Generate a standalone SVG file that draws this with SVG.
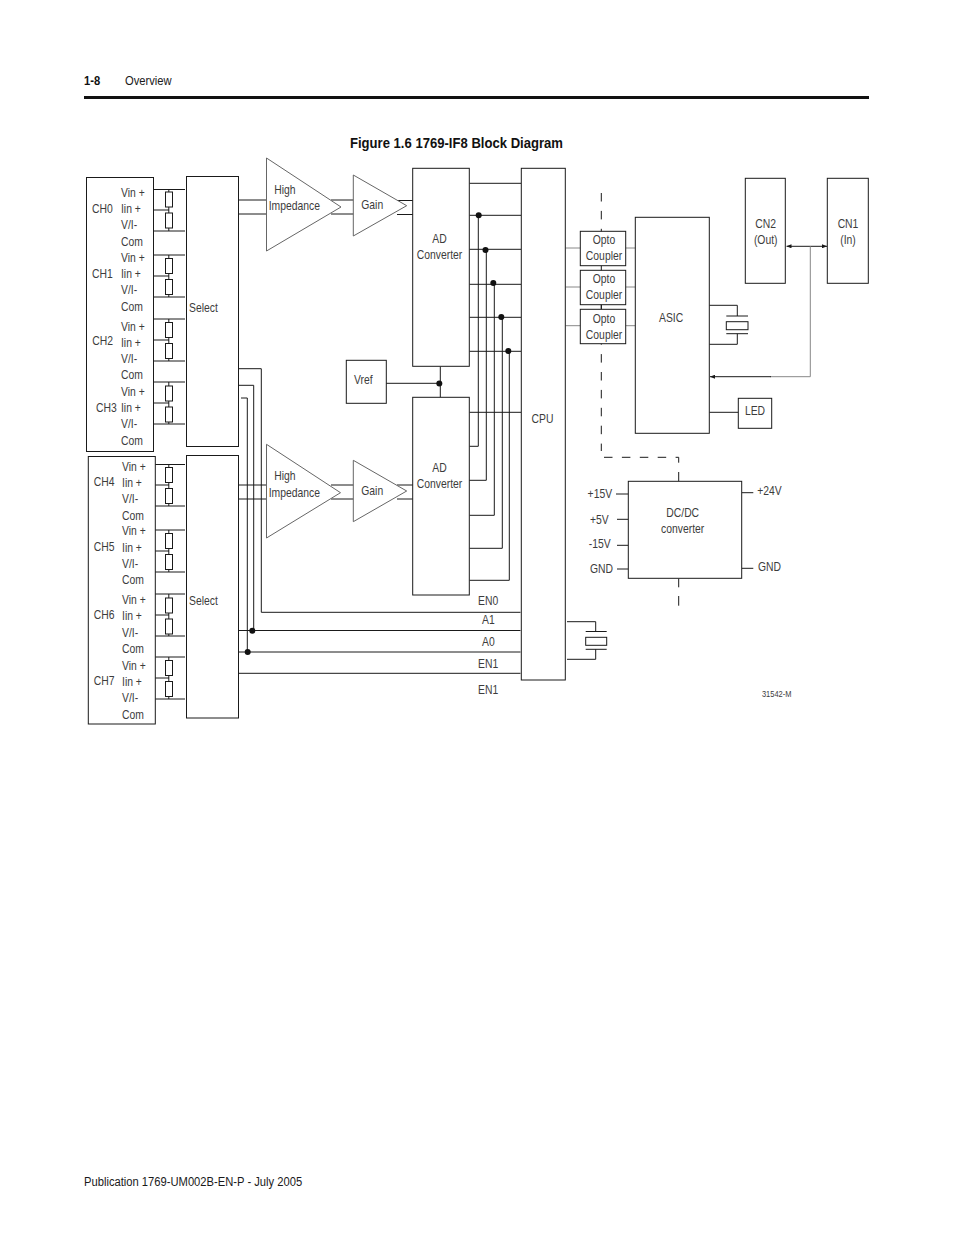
<svg xmlns="http://www.w3.org/2000/svg" width="954" height="1235" viewBox="0 0 954 1235">
<style>
text{font-family:"Liberation Sans",Arial,sans-serif;font-size:12.5px;fill:#3c3c3c;transform-box:fill-box;transform-origin:left center;transform:translateY(-.7px) scaleX(.83)}
.c{text-anchor:middle;transform-origin:center}.e{text-anchor:end;transform-origin:right center}
.h{font-size:13.5px;fill:#1a1a1a}
.b{font-weight:bold;fill:#111}
.t{font-size:15px;transform:translateY(-.7px) scaleX(.873)}
.s{font-size:9px}
.box{fill:#fff;stroke:#1a1a1a;stroke-width:1}
.tri{fill:#fff;stroke:#666;stroke-width:1}
.w{fill:none;stroke:#1a1a1a;stroke-width:1}
.g{fill:none;stroke:#888;stroke-width:1}
.d{fill:none;stroke:#1a1a1a;stroke-width:1;stroke-dasharray:8.5 9.4}
.dot{fill:#111}
.r{fill:#fff;stroke:#1a1a1a;stroke-width:1}
</style>
<defs>
<marker id="ah" viewBox="0 0 5 4" refX="5" refY="2" markerWidth="5" markerHeight="4" markerUnits="userSpaceOnUse" orient="auto-start-reverse"><path d="M0 0L5 2L0 4Z" fill="#1a1a1a"/></marker>
<g id="res"><rect class="r" x="165.5" y="0" width="7" height="15"/><rect class="r" x="165.5" y="21" width="7" height="15"/></g>
</defs>
<rect width="954" height="1235" fill="#fff"/>
<g id="page">
<text class="h b" x="84" y="86">1-8</text>
<text class="h" x="125" y="86">Overview</text>
<rect x="84" y="96" width="785" height="3" fill="#111"/>
<text class="b t" x="350" y="149">Figure 1.6 1769-IF8 Block Diagram</text>
<text class="h" x="84" y="1187">Publication 1769-UM002B-EN-P - July 2005</text>
<text class="c s" x="776.7" y="697.5">31542-M</text>
</g>
<g id="connectors">
<path class="w" d="M153.5 189.5H185M153.5 210H169M153.5 231H185M153.5 255H185M153.5 276H169M153.5 297H185M153.5 319H185M153.5 340H169M153.5 361H185M153.5 382H185M153.5 403H169M153.5 424H185"/>
<path class="w" d="M155 464.5H185M155 485H169M155 506H185M155 530H185M155 551H169M155 572H185M155 594H185M155 615H169M155 636H185M155 657H185M155 678H169M155 699H185"/>
<path class="w" d="M168.8 189.5V231M168.8 255V297M168.8 319V361M168.8 382V424M168.8 464.5V506M168.8 530V572M168.8 594V636M168.8 657V699"/>
<use href="#res" y="192"/><use href="#res" y="258.5"/><use href="#res" y="322.5"/><use href="#res" y="386"/>
<use href="#res" y="467.5"/><use href="#res" y="533.5"/><use href="#res" y="598"/><use href="#res" y="660.5"/>
<path class="w" d="M238.5 200H267M238.5 214H267M331 200H354M331 214H354M397 200.5H413M397 214.5H413"/>
<path class="w" d="M238.5 485H267M238.5 499H267M331 485H354M331 499H354M397 485H413M397 499H413"/>
<path class="w" d="M238.5 368.7H261.3V612.3H520.5M238.5 385.3H253.7V630.5M241 398H247.3V652M238.5 630.5H520.5M238.5 652H520.5M238.5 673.3H520.5"/>
<path class="w" d="M469.5 183.3H521M469.5 215.3H521M469.5 249.3H521M469.5 284.3H521M469.5 317.3H521M469.5 351.3H521M469.5 412.3H521"/>
<path class="w" d="M478.3 215.3V446.3H469.5M486.3 250V480.3H468.5M494.3 283V515.3H469.5M502.3 317V548.3H469.5M509.3 351V580.3H469.5"/>
<path class="w" d="M386 383.3H440M440.3 366.5V397.5"/>
<path class="w" d="M567 621.7H595.7V631.5M585.7 631.5H606.7M585.7 649.3H606.7M595.7 649.3V659.3H567"/>
<rect class="r" x="585.7" y="637.3" width="21" height="8"/>
<path class="g" d="M565.5 248H580.5M565.5 287H580.5M565.5 325.7H580.5M625.7 248H635.5M625.7 287H635.5M625.7 325.7H635.5"/>
<path class="d" d="M601.3 193V451"/>
<path class="w" d="M601.3 304V310"/>
<path class="d" d="M604 457.3H678.7V463"/>
<path class="w" d="M678.7 472V481.3M678.7 578.5V587.3M678.7 596V605.7"/>
<path class="w" d="M616 494H628.5M617 519.3H628.5M617 545.3H628.5M617 569H628.5M741.7 492.7H753.3M741.7 568.3H753.3"/>
<path class="w" d="M786.5 246.3H827" marker-start="url(#ah)" marker-end="url(#ah)"/>
<path class="g" d="M810.3 246.3V376.7H770"/>
<path class="w" d="M771 376.7H710" marker-end="url(#ah)"/>
<path class="w" d="M709.3 412.3H738.5"/>
<path class="w" d="M709.3 305.3H737.3V316M726.3 316H748M726.3 333.7H748M737.3 333.7V344.3H709.3"/>
<rect class="r" x="726.3" y="321.7" width="21.7" height="8"/>
</g>
<g id="ch0-3"><rect class="box" x="86.5" y="177.5" width="67" height="274"/>
<text x="92" y="214">CH0</text><text x="121" y="198">Vin +</text><text x="121" y="214">Iin +</text><text x="121" y="229.5">V/I-</text><text x="121" y="246.7">Com</text>
<text x="92" y="278.7">CH1</text><text x="121" y="262.7">Vin +</text><text x="121" y="278.7">Iin +</text><text x="121" y="294.7">V/I-</text><text x="121" y="311.3">Com</text>
<text x="92.3" y="346">CH2</text><text x="121" y="331.7">Vin +</text><text x="121" y="347.7">Iin +</text><text x="121" y="363.3">V/I-</text><text x="121" y="380">Com</text>
<text x="96" y="412.7">CH3</text><text x="121" y="397">Vin +</text><text x="121" y="412.7">Iin +</text><text x="121" y="428.3">V/I-</text><text x="121" y="445.3">Com</text></g>
<g id="ch4-7"><rect class="box" x="88.3" y="456.5" width="67" height="267.5"/>
<text x="93.7" y="486.7">CH4</text><text x="122" y="472">Vin +</text><text x="122" y="488">Iin +</text><text x="122" y="504">V/I-</text><text x="122" y="520.7">Com</text>
<text x="93.7" y="551.7">CH5</text><text x="122" y="536">Vin +</text><text x="122" y="552.7">Iin +</text><text x="122" y="568.3">V/I-</text><text x="122" y="584.7">Com</text>
<text x="93.7" y="620">CH6</text><text x="122" y="605">Vin +</text><text x="122" y="620.7">Iin +</text><text x="122" y="637.3">V/I-</text><text x="122" y="653.3">Com</text>
<text x="93.7" y="685.7">CH7</text><text x="122" y="670.7">Vin +</text><text x="122" y="686.3">Iin +</text><text x="122" y="702.3">V/I-</text><text x="122" y="719.3">Com</text></g>
<g id="select1"><rect class="box" x="186.5" y="176.5" width="52" height="270"/><text x="189" y="312.7">Select</text></g>
<g id="select2"><rect class="box" x="186.5" y="455.5" width="52" height="262.5"/><text x="189" y="605.7">Select</text></g>
<g id="amp1"><path class="tri" d="M266.5 158L341 207L266.5 251Z"/><text x="274.3" y="194.7">High</text><text x="268.7" y="210.7">Impedance</text></g>
<g id="amp2"><path class="tri" d="M266.5 444.3L340.5 492.7L266.5 538Z"/><text x="274.3" y="480.7">High</text><text x="268.7" y="497.7">Impedance</text></g>
<g id="gain1"><path class="tri" d="M353.3 175L406.7 205.7L353.3 236Z"/><text x="361.3" y="210">Gain</text></g>
<g id="gain2"><path class="tri" d="M353.3 460.3L406.7 491L353.3 521.7Z"/><text x="361.3" y="495.7">Gain</text></g>
<g id="ad1"><rect class="box" x="412.7" y="168.3" width="56.6" height="198"/><text class="c" x="439.5" y="244">AD</text><text class="c" x="439.5" y="260">Converter</text></g>
<g id="ad2"><rect class="box" x="412.7" y="397.3" width="56.6" height="197.7"/><text class="c" x="439.5" y="472.7">AD</text><text class="c" x="439.5" y="489">Converter</text></g>
<g id="vref"><rect class="box" x="346.3" y="360.3" width="40" height="43"/><text x="354" y="384.7">Vref</text></g>
<g id="cpu"><rect class="box" x="521.3" y="168.3" width="44" height="511.7"/><text class="c" x="542.5" y="424">CPU</text></g>
<g id="opto1"><rect class="box" x="580.3" y="231.3" width="45.4" height="34.4"/><text class="c" x="604" y="245">Opto</text><text class="c" x="604" y="261">Coupler</text></g>
<g id="opto2"><rect class="box" x="580.3" y="270.3" width="45.4" height="34.4"/><text class="c" x="604" y="284">Opto</text><text class="c" x="604" y="300">Coupler</text></g>
<g id="opto3"><rect class="box" x="580.3" y="309.3" width="45.4" height="34.4"/><text class="c" x="604" y="323.3">Opto</text><text class="c" x="604" y="340">Coupler</text></g>
<g id="asic"><rect class="box" x="635.3" y="217.3" width="74" height="216"/><text x="659" y="322.7">ASIC</text></g>
<g id="led"><rect class="box" x="738.3" y="398.3" width="33.4" height="30"/><text class="c" x="755" y="416">LED</text></g>
<g id="cn2"><rect class="box" x="745.3" y="178.3" width="40" height="105"/><text class="c" x="765.7" y="228.3">CN2</text><text class="c" x="765.7" y="244.7">(Out)</text></g>
<g id="cn1"><rect class="box" x="827.3" y="178.3" width="41" height="105"/><text class="c" x="848" y="228.3">CN1</text><text class="c" x="848" y="244.7">(In)</text></g>
<g id="dcdc"><rect class="box" x="628.3" y="481.3" width="113.4" height="97"/><text class="c" x="682.7" y="517.3">DC/DC</text><text class="c" x="682.7" y="534">converter</text></g>
<g id="labels">
<text x="478" y="605.7">EN0</text><text x="482" y="625">A1</text><text x="482" y="646.7">A0</text><text x="478" y="668.7">EN1</text><text x="478" y="695">EN1</text>
<text class="e" x="612" y="498.3">+15V</text><text class="e" x="608.7" y="524.7">+5V</text><text class="e" x="610.7" y="549">-15V</text><text class="e" x="613" y="574">GND</text>
<text x="757.3" y="496">+24V</text><text x="758" y="571.7">GND</text>
</g>
<g id="junctions">
<circle class="dot" cx="478.7" cy="215.3" r="3"/><circle class="dot" cx="485.5" cy="250" r="3"/><circle class="dot" cx="493.3" cy="283" r="3"/><circle class="dot" cx="501.3" cy="317" r="3"/><circle class="dot" cx="508.3" cy="351" r="3"/>
<circle class="dot" cx="439.3" cy="383.5" r="3"/><circle class="dot" cx="252.3" cy="630.7" r="3"/><circle class="dot" cx="247.7" cy="652" r="3"/>
</g>
</svg>
